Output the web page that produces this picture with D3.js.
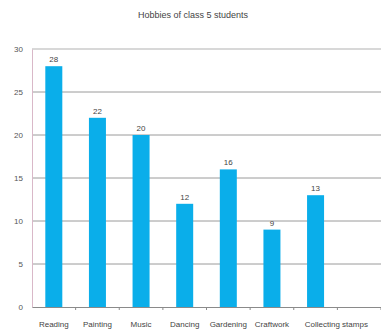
<!DOCTYPE html>
<html>
<head>
<meta charset="utf-8">
<script src="https://cdn.jsdelivr.net/npm/d3@7"></script>
<style>
  body { margin: 0; background: #fff; }
  text { font-family: "Liberation Sans Narrow", "Liberation Sans", Arial, sans-serif; }
</style>
</head>
<body>
<svg width="381" height="335"></svg>
<script>
const title = "Hobbies of class 5 students";
const categories = ["Reading", "Painting", "Music", "Dancing", "Gardening", "Craftwork", "Collecting stamps"];
const values = [28, 22, 20, 12, 16, 9, 13];
const yTicks = [0, 5, 10, 15, 20, 25, 30];

const svg = d3.select("svg");
const mLeft = 32, mRight = 381, mTop = 49, mBottom = 307;

// 8 slots, the last one stays empty
const slots = categories.concat([""]);
const x = d3.scaleBand().domain(slots).range([mLeft, mRight]).paddingInner(0).paddingOuter(0);
const y = d3.scaleLinear().domain([0, 30]).range([mBottom, mTop]);

svg.append("text")
  .attr("x", 193).attr("y", 18)
  .attr("text-anchor", "middle")
  .attr("font-size", 9).attr("fill", "#444")
  .text(title);

// gridlines
svg.append("g")
  .selectAll("line")
  .data(yTicks.filter(d => d > 0))
  .enter().append("line")
  .attr("x1", mLeft).attr("x2", mRight)
  .attr("y1", d => y(d)).attr("y2", d => y(d))
  .attr("stroke", d => d === 30 ? "#d8d8d8" : "#9a9a9a")
  .attr("stroke-width", d => d === 30 ? 2 : 1);

// y axis
const yAxis = svg.append("g")
  .attr("transform", `translate(${mLeft},0)`)
  .call(d3.axisLeft(y).tickValues(yTicks).tickSize(0).tickPadding(9));
yAxis.select(".domain").attr("stroke", "#d9b8c8");
yAxis.selectAll("text").attr("font-size", 8).attr("fill", "#555");

// bars
const barW = 17;
svg.append("g")
  .selectAll("rect")
  .data(values)
  .enter().append("rect")
  .attr("x", (d, i) => x(categories[i]) + x.bandwidth() / 2 - barW / 2)
  .attr("y", d => y(d))
  .attr("width", barW)
  .attr("height", d => y(0) - y(d))
  .attr("fill", "#0aaeea");

svg.append("g")
  .selectAll("text")
  .data(values)
  .enter().append("text")
  .attr("x", (d, i) => x(categories[i]) + x.bandwidth() / 2)
  .attr("y", d => y(d) - 4)
  .attr("text-anchor", "middle")
  .attr("font-size", 8).attr("fill", "#444")
  .text(d => d);

// x axis
const xAxis = svg.append("g")
  .attr("transform", `translate(0,${mBottom})`)
  .call(d3.axisBottom(x).tickSize(0).tickFormat(""));
xAxis.select(".domain").attr("stroke", "#8a8a8a");

svg.append("g")
  .selectAll("line")
  .data(slots)
  .enter().append("line")
  .attr("x1", d => x(d) + x.bandwidth()).attr("x2", d => x(d) + x.bandwidth())
  .attr("y1", mBottom).attr("y2", mBottom + 3)
  .attr("stroke", "#8a8a8a");

svg.append("g")
  .selectAll("text")
  .data(categories)
  .enter().append("text")
  .attr("x", (d, i) => i === categories.length - 1 ? x(d) + 11 : x(d) + x.bandwidth() / 2)
  .attr("y", 327)
  .attr("text-anchor", (d, i) => i === categories.length - 1 ? "start" : "middle")
  .attr("font-size", 8).attr("fill", "#444")
  .text(d => d);
</script>
</body>
</html>
